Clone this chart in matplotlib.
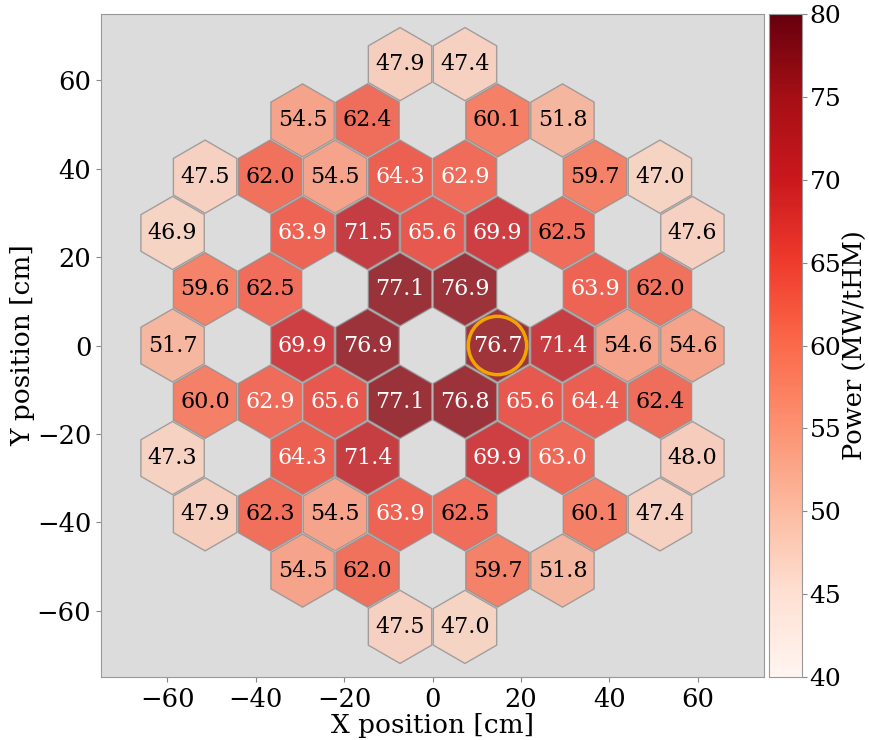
import numpy as np
import matplotlib
matplotlib.use("Agg")
import matplotlib.pyplot as plt
from matplotlib.patches import RegularPolygon, Circle
from matplotlib import cm, colors

# Hex grid rows (top to bottom); None = empty position
row_index = [5, 4, 3, 2, 1, 0, -1, -2, -3, -4, -5]
row_5 = [47.9, 47.4]
row_4 = [54.5, 62.4, None, 60.1, 51.8]
row_3 = [47.5, 62.0, 54.5, 64.3, 62.9, None, 59.7, 47.0]
row_2 = [46.9, None, 63.9, 71.5, 65.6, 69.9, 62.5, None, 47.6]
row_1 = [59.6, 62.5, None, 77.1, 76.9, None, 63.9, 62.0]
row_0 = [51.7, None, 69.9, 76.9, None, 76.7, 71.4, 54.6, 54.6]
row_m1 = [60.0, 62.9, 65.6, 77.1, 76.8, 65.6, 64.4, 62.4]
row_m2 = [47.3, None, 64.3, 71.4, None, 69.9, 63.0, None, 48.0]
row_m3 = [47.9, 62.3, 54.5, 63.9, 62.5, None, 60.1, 47.4]
row_m4 = [54.5, 62.0, None, 59.7, 51.8]
row_m5 = [47.5, 47.0]
rows = [row_5, row_4, row_3, row_2, row_1, row_0, row_m1, row_m2, row_m3, row_m4, row_m5]

highlight = (1.0, 0)  # (column index in pitch units, row) of circled assembly

pitch = 14.7
vmin, vmax = 40, 80
cmap = plt.get_cmap("Reds")
norm = colors.Normalize(vmin=vmin, vmax=vmax)

plt.rcParams["font.family"] = "DejaVu Serif"

fig = plt.figure(figsize=(8.69, 7.4), dpi=100)
ax = fig.add_axes([0.1162, 0.0851, 0.763, 0.896])
cax = fig.add_axes([0.885, 0.0851, 0.038, 0.896])

ax.set_facecolor("#dcdcdc")
r_hex = 0.975 * pitch / np.sqrt(3)
dy = pitch * np.sqrt(3) / 2
for j, vals in zip(row_index, rows):
    n = len(vals)
    for i, v in enumerate(vals):
        if v is None:
            continue
        cx = (i - (n - 1) / 2) * pitch
        cy = j * dy
        hexp = RegularPolygon((cx, cy), numVertices=6, radius=r_hex, orientation=0,
                              facecolor=cmap(norm(v)), alpha=0.8,
                              edgecolor="#909090", linewidth=1.0)
        ax.add_patch(hexp)
        tc = "white" if v > 62.7 else "black"
        ax.text(cx, cy, f"{v:.1f}", ha="center", va="center", fontsize=16, color=tc)

ax.add_patch(Circle((highlight[0] * pitch, highlight[1] * dy), 6.6, fill=False,
                    edgecolor="#f0a500", linewidth=2.5, zorder=5))

ax.set_xlim(-75, 75)
ax.set_ylim(-75, 75)
ax.set_xticks([-60, -40, -20, 0, 20, 40, 60])
ax.set_yticks([-60, -40, -20, 0, 20, 40, 60])
ax.tick_params(labelsize=18.5, color="#888888")
for s in ax.spines.values():
    s.set_color("#999999")
ax.set_xlabel("X position [cm]", fontsize=19, labelpad=1)
ax.set_ylabel("Y position [cm]", fontsize=19, labelpad=1)

sm = cm.ScalarMappable(norm=norm, cmap=cmap)
cb = fig.colorbar(sm, cax=cax, ticks=[40, 45, 50, 55, 60, 65, 70, 75, 80])
cb.ax.tick_params(labelsize=18, color="#888888", pad=2)
cb.outline.set_edgecolor("#999999")
cb.set_label("Power (MW/tHM)", fontsize=18.5, labelpad=1)

fig.savefig("out.png", dpi=100)
